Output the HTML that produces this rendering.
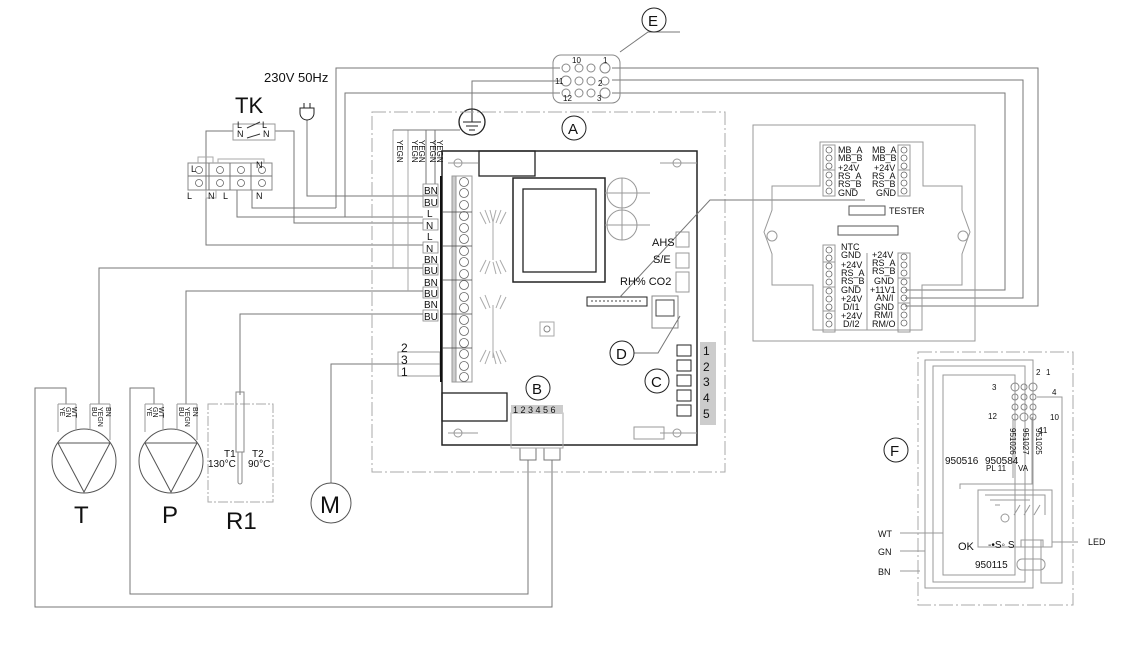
<!DOCTYPE html>
<html><head><meta charset="utf-8"><style>
html,body{margin:0;padding:0;background:#fff;}
svg{display:block;font-family:"Liberation Sans",sans-serif;}
</style></head><body>
<svg width="1141" height="667" viewBox="0 0 1141 667" xmlns="http://www.w3.org/2000/svg">
<g fill="none" stroke="#777" stroke-width="1">
<!-- top wires from E -->
<polyline points="336,208 336,68 560,68"/>
<polyline points="345,217 345,93 560,93"/>
<polyline points="472,113 472,81 560,81"/>
<polyline points="612,68 1038,68 1038,306 905,306"/>
<polyline points="612,80 1023,80 1023,298 905,298"/>
<polyline points="612,93 1005,93 1005,290 905,290"/>
<polyline points="620,52 648,32 680,32"/>
<!-- left wiring -->
<polyline points="252,190 252,208 336,208"/>
<polyline points="237,190 237,217 423,217"/>
<polyline points="275,131 294,131 294,223 423,223"/>
<polyline points="233,131 206,131 206,245 423,245"/>
<polyline points="307,120 307,196 423,196"/>
<polyline points="99,404 99,268 423,268"/>
<polyline points="186,404 186,291 423,291"/>
<polyline points="240,395 240,314 423,314"/>
<polyline points="331,483 331,364 440,364"/>
<polyline points="393,130 393,268" stroke="#aaa"/>
<polyline points="408,130 408,291" stroke="#aaa"/>
<polyline points="426,130 426,190"/>
<polyline points="435,130 435,190"/>
<polyline points="393,130 460,130"/>
<!-- 2 3 1 box -->
<rect x="398" y="352" width="42" height="24" stroke="#999"/>
<line x1="398" y1="364" x2="440" y2="364" stroke="#999"/>
<!-- bottom loops -->
<polyline points="66,404 66,388 35,388 35,607 552,607 552,460"/>
<polyline points="154,404 154,388 130,388 130,594 528,594 528,460"/>
<rect x="520" y="448" width="16" height="12"/>
<rect x="544" y="448" width="16" height="12"/>
<!-- TK block -->
<rect x="188" y="163" width="84" height="27" stroke="#888"/>
<line x1="188" y1="176" x2="272" y2="176"/>
<line x1="209" y1="163" x2="209" y2="190"/><line x1="230" y1="163" x2="230" y2="190"/><line x1="251" y1="163" x2="251" y2="190"/>
<polyline points="198,163 198,157 213,157 213,163" stroke="#aaa"/>
<polyline points="218,163 218,159 264,159 264,163" stroke="#aaa"/>
<polyline points="206,190 206,198 216,198 216,190" stroke="#aaa"/>
<rect x="233" y="124" width="42" height="16" stroke="#999"/>
<line x1="247" y1="128" x2="260" y2="122" stroke="#333"/>
<line x1="247" y1="138" x2="260" y2="134" stroke="#333"/>
<!-- plug -->
<path d="M300,108 h14 v5 a7,7 0 0 1 -14,0 z" stroke="#222"/>
<line x1="304" y1="103" x2="304" y2="108" stroke="#222"/><line x1="310" y1="103" x2="310" y2="108" stroke="#222"/>
<!-- ground -->
<circle cx="472" cy="122" r="13" stroke="#222" stroke-width="1.3"/>
<line x1="472" y1="110" x2="472" y2="122" stroke="#222"/>
<line x1="463" y1="122" x2="481" y2="122" stroke="#222"/><line x1="466" y1="126" x2="478" y2="126" stroke="#222"/><line x1="469" y1="130" x2="475" y2="130" stroke="#222"/>
<!-- board A outline -->
<rect x="372" y="112" width="353" height="360" stroke="#aaa" stroke-dasharray="14,3,2,3"/>
<rect x="442" y="151" width="255" height="294" stroke="#222" stroke-width="1.5"/>
<rect x="479" y="151" width="56" height="25" stroke="#222" stroke-width="1.3"/>
<rect x="442" y="393" width="65" height="28" stroke="#222" stroke-width="1.3"/>
<rect x="513" y="178" width="92" height="104" stroke="#222" stroke-width="1.5"/>
<rect x="523" y="189" width="73" height="83" stroke="#222" stroke-width="1.3"/>
<circle cx="622" cy="193" r="15" stroke="#999"/><circle cx="622" cy="225" r="15" stroke="#999"/>
<line x1="605" y1="193" x2="650" y2="193" stroke="#999"/><line x1="622" y1="178" x2="622" y2="240" stroke="#999"/>
<line x1="605" y1="225" x2="650" y2="225" stroke="#999"/>
<circle cx="458" cy="163" r="4" stroke="#999"/><circle cx="677" cy="163" r="4" stroke="#999"/>
<circle cx="458" cy="433" r="4" stroke="#999"/><circle cx="677" cy="433" r="4" stroke="#999"/>
<line x1="448" y1="163" x2="478" y2="163" stroke="#999"/><line x1="660" y1="163" x2="697" y2="163" stroke="#999"/>
<line x1="448" y1="433" x2="478" y2="433" stroke="#999"/><line x1="660" y1="433" x2="697" y2="433" stroke="#999"/>
<!-- heat sinks -->
<g stroke="#aaa"><line x1="493" y1="220" x2="493" y2="260"/><line x1="493" y1="305" x2="493" y2="358"/>
<path d="M480,212 l6,12 M485,210 l5,13 M490,210 l3,12 M496,210 l-3,12 M501,210 l-5,13 M506,212 l-6,12"/>
<path d="M480,272 l6,-12 M485,274 l5,-13 M496,274 l-3,-12 M501,274 l-5,-13 M506,272 l-6,-12"/>
<path d="M480,297 l6,12 M485,295 l5,13 M501,295 l-5,13 M506,297 l-6,12"/>
<path d="M480,362 l6,-12 M485,364 l5,-13 M496,364 l-3,-12 M501,364 l-5,-13 M506,362 l-6,-12"/></g>
<rect x="540" y="322" width="14" height="14" stroke="#aaa"/><circle cx="547" cy="329" r="3" stroke="#888"/>
<!-- connectors -->
<rect x="587" y="297" width="60" height="9" stroke="#222"/>
<line x1="591" y1="301" x2="643" y2="301" stroke="#444" stroke-dasharray="2,2"/>
<rect x="652" y="296" width="26" height="32" stroke="#888"/>
<rect x="656" y="300" width="18" height="16" stroke="#444"/>
<rect x="676" y="232" width="13" height="15" stroke="#999"/><rect x="676" y="253" width="13" height="15" stroke="#999"/><rect x="676" y="272" width="13" height="20" stroke="#999"/>
<rect x="634" y="427" width="30" height="12" stroke="#999"/>
<polyline points="620,297 710,200 865,200"/>
<polyline points="634,353 658,353 680,316"/>
<!-- B connector -->
<rect x="511" y="413" width="52" height="35" stroke="#aaa"/>
<!-- C relays -->
<g stroke="#222"><rect x="677" y="345" width="14" height="11"/><rect x="677" y="360" width="14" height="11"/><rect x="677" y="375" width="14" height="11"/><rect x="677" y="390" width="14" height="11"/><rect x="677" y="405" width="14" height="11"/></g>
<!-- terminal strip -->
<line x1="441" y1="176" x2="441" y2="382" stroke="#111" stroke-width="2"/>
<rect x="452" y="176" width="4" height="206" fill="#ccc" stroke="#999"/>
<rect x="456" y="176" width="16" height="206" stroke="#999"/>
<!-- circles -->
<circle cx="458" cy="128" r="13" stroke="#fff" stroke-width="0"/>
<circle cx="574" cy="128" r="12" stroke="#222"/>
<circle cx="654" cy="20" r="12" stroke="#222"/>
<circle cx="538" cy="388" r="12" stroke="#222"/>
<circle cx="657" cy="381" r="12" stroke="#222"/>
<circle cx="622" cy="353" r="12" stroke="#222"/>
<circle cx="896" cy="450" r="12" stroke="#222"/>
<circle cx="331" cy="503" r="20" stroke="#555"/>
<!-- E connector -->
<rect x="553" y="55" width="67" height="48" rx="8" stroke="#888"/>
<g stroke="#888"><circle cx="566" cy="68" r="4"/><circle cx="579" cy="68" r="4"/><circle cx="591" cy="68" r="4"/><circle cx="605" cy="68" r="5"/>
<circle cx="566" cy="81" r="5"/><circle cx="579" cy="81" r="4"/><circle cx="591" cy="81" r="4"/><circle cx="605" cy="81" r="4"/>
<circle cx="566" cy="93" r="4"/><circle cx="579" cy="93" r="4"/><circle cx="591" cy="93" r="4"/><circle cx="605" cy="93" r="5"/></g>
<!-- pumps -->
<circle cx="84" cy="461" r="32" stroke="#555"/>
<polyline points="58,443 110,443 84,492 58,443" stroke="#555"/>
<circle cx="171" cy="461" r="32" stroke="#555"/>
<polyline points="145,443 197,443 171,492 145,443" stroke="#555"/>
<g stroke="#999"><line x1="58" y1="404" x2="58" y2="432"/><line x1="76" y1="404" x2="76" y2="430"/><line x1="58" y1="404" x2="76" y2="404"/><line x1="90" y1="404" x2="110" y2="404"/><line x1="90" y1="404" x2="90" y2="430"/><line x1="110" y1="404" x2="110" y2="440"/>
<line x1="145" y1="404" x2="145" y2="432"/><line x1="163" y1="404" x2="163" y2="430"/><line x1="145" y1="404" x2="163" y2="404"/><line x1="177" y1="404" x2="197" y2="404"/><line x1="177" y1="404" x2="177" y2="430"/><line x1="197" y1="404" x2="197" y2="440"/></g>
<!-- R1 -->
<rect x="208" y="404" width="65" height="98" stroke="#aaa" stroke-dasharray="10,2,2,2"/>
<rect x="236" y="392" width="8" height="60" stroke="#888"/>
<path d="M238,452 v30 a2,2 0 0 0 4,0 v-30" stroke="#888"/>
<!-- right controller module -->
<rect x="753" y="125" width="222" height="216" stroke="#999"/>
<path d="M820,142 H923 V186 H962 V210 L970,232 L962,254 V285 H922 V330 H813 V285 H772 V254 L764,232 L772,210 V186 H820 Z" stroke="#999"/>
<circle cx="772" cy="236" r="5" stroke="#999"/><circle cx="963" cy="236" r="5" stroke="#999"/>
<rect x="823" y="145" width="12" height="51" stroke="#999"/><line x1="823" y1="170" x2="835" y2="170" stroke="#999"/>
<rect x="898" y="145" width="12" height="51" stroke="#999"/><line x1="898" y1="170" x2="910" y2="170" stroke="#999"/>
<rect x="849" y="206" width="36" height="9" stroke="#555"/>
<rect x="838" y="226" width="60" height="9" stroke="#555"/>
<rect x="823" y="245" width="12" height="87" stroke="#999"/>
<line x1="823" y1="262" x2="835" y2="262" stroke="#999"/><line x1="823" y1="287" x2="835" y2="287" stroke="#999"/><line x1="823" y1="311" x2="835" y2="311" stroke="#999"/>
<rect x="898" y="253" width="12" height="79" stroke="#999"/>
<line x1="898" y1="278" x2="910" y2="278" stroke="#999"/><line x1="898" y1="303" x2="910" y2="303" stroke="#999"/>
<line x1="867" y1="253" x2="867" y2="330" stroke="#999"/>
<!-- F module -->
<rect x="918" y="352" width="155" height="253" stroke="#aaa" stroke-dasharray="14,3,2,3"/>
<g stroke="#999">
<rect x="925" y="360" width="108" height="228"/>
<rect x="933" y="366" width="92" height="216"/>
<rect x="943" y="375" width="72" height="200"/>
<line x1="920" y1="571" x2="900" y2="571"/><line x1="925" y1="551" x2="900" y2="551"/><line x1="943" y1="533" x2="900" y2="533"/>
<polyline points="1037,397 1062,397 1062,583 1041,583 1041,540"/>
<rect x="978" y="490" width="74" height="57"/>
<rect x="1017" y="559" width="28" height="11" rx="5"/>
<line x1="1052" y1="542" x2="1078" y2="542"/>
<polyline points="960,489 960,484 1032,484 1032,417"/>
<line x1="1013" y1="420" x2="1013" y2="478"/>
<rect x="1021" y="540" width="22" height="7"/>
<path d="M985,495 h60 v20 M990,500 h40 M995,505 l5,0 M1020,505 l-6,10 M1030,505 l-6,10 M1040,505 l-6,10"/>
<circle cx="1005" cy="518" r="4"/>
</g>
<g stroke="#888"><circle cx="1015" cy="387" r="4"/><circle cx="1024" cy="387" r="3"/><circle cx="1033" cy="387" r="4"/>
<circle cx="1015" cy="397" r="3"/><circle cx="1024" cy="397" r="3"/><circle cx="1033" cy="397" r="3"/>
<circle cx="1015" cy="407" r="3"/><circle cx="1024" cy="407" r="3"/><circle cx="1033" cy="407" r="3"/>
<circle cx="1015" cy="417" r="3"/><circle cx="1024" cy="417" r="4"/><circle cx="1033" cy="417" r="3"/></g>
</g>
<!-- screw terminals -->
<g fill="none" stroke="#666" stroke-width="0.8">
<circle cx="464" cy="182" r="4.5"/><circle cx="464" cy="193" r="4.5"/><circle cx="464" cy="205" r="4.5"/><circle cx="464" cy="216" r="4.5"/><circle cx="464" cy="228" r="4.5"/><circle cx="464" cy="239" r="4.5"/><circle cx="464" cy="251" r="4.5"/><circle cx="464" cy="262" r="4.5"/><circle cx="464" cy="274" r="4.5"/><circle cx="464" cy="285" r="4.5"/><circle cx="464" cy="297" r="4.5"/><circle cx="464" cy="308" r="4.5"/><circle cx="464" cy="320" r="4.5"/><circle cx="464" cy="331" r="4.5"/><circle cx="464" cy="343" r="4.5"/><circle cx="464" cy="354" r="4.5"/><circle cx="464" cy="366" r="4.5"/><circle cx="464" cy="377" r="4.5"/>
<circle cx="829" cy="150" r="3"/><circle cx="829" cy="158" r="3"/><circle cx="829" cy="166" r="3"/><circle cx="829" cy="175" r="3"/><circle cx="829" cy="183" r="3"/><circle cx="829" cy="191" r="3"/>
<circle cx="904" cy="150" r="3"/><circle cx="904" cy="158" r="3"/><circle cx="904" cy="166" r="3"/><circle cx="904" cy="175" r="3"/><circle cx="904" cy="183" r="3"/><circle cx="904" cy="191" r="3"/>
<circle cx="829" cy="250" r="3"/><circle cx="829" cy="258" r="3"/><circle cx="829" cy="266" r="3"/><circle cx="829" cy="274" r="3"/><circle cx="829" cy="282" r="3"/><circle cx="829" cy="291" r="3"/><circle cx="829" cy="299" r="3"/><circle cx="829" cy="307" r="3"/><circle cx="829" cy="316" r="3"/><circle cx="829" cy="324" r="3"/>
<circle cx="904" cy="257" r="3"/><circle cx="904" cy="265" r="3"/><circle cx="904" cy="273" r="3"/><circle cx="904" cy="282" r="3"/><circle cx="904" cy="290" r="3"/><circle cx="904" cy="298" r="3"/><circle cx="904" cy="307" r="3"/><circle cx="904" cy="315" r="3"/><circle cx="904" cy="323" r="3"/>
<circle cx="199" cy="170" r="3.5"/><circle cx="220" cy="170" r="3.5"/><circle cx="241" cy="170" r="3.5"/><circle cx="262" cy="170" r="3.5"/>
<circle cx="199" cy="183" r="3.5"/><circle cx="220" cy="183" r="3.5"/><circle cx="241" cy="183" r="3.5"/><circle cx="262" cy="183" r="3.5"/>
</g>
<g stroke="#444" stroke-width="0.8"><line x1="442" y1="212" x2="472" y2="212"/><line x1="442" y1="246" x2="472" y2="246"/><line x1="442" y1="280" x2="472" y2="280"/><line x1="442" y1="314" x2="472" y2="314"/><line x1="442" y1="348" x2="472" y2="348"/></g>
<!-- gray bars -->
<rect x="700" y="342" width="16" height="83" fill="#ccc"/>
<rect x="511" y="405" width="52" height="9" fill="#ccc"/>
<!-- label boxes -->
<g fill="#fff" stroke="#888" stroke-width="0.8">
<rect x="423" y="184" width="15" height="11"/><rect x="423" y="196" width="15" height="11"/><rect x="423" y="219" width="15" height="11"/><rect x="423" y="242" width="15" height="11"/><rect x="423" y="264" width="15" height="11"/><rect x="423" y="287" width="15" height="11"/><rect x="423" y="310" width="15" height="11"/>
</g>
<!-- text -->
<g fill="#111" font-size="10">
<text x="424" y="194">BN</text><text x="424" y="206">BU</text><text x="427" y="217">L</text><text x="426" y="229">N</text><text x="427" y="240">L</text><text x="426" y="252">N</text><text x="424" y="263">BN</text><text x="424" y="274">BU</text><text x="424" y="286">BN</text><text x="424" y="297">BU</text><text x="424" y="308">BN</text><text x="424" y="320">BU</text>
<text x="401" y="352" font-size="12">2</text><text x="401" y="364" font-size="12">3</text><text x="401" y="376" font-size="12">1</text>
<text x="264" y="82" font-size="13">230V 50Hz</text>
<text x="235" y="113" font-size="22">TK</text>
<text x="237" y="128" font-size="9">L</text><text x="262" y="128" font-size="9">L</text><text x="237" y="137" font-size="9">N</text><text x="263" y="137" font-size="9">N</text>
<text x="191" y="172" font-size="9">L</text><text x="256" y="168" font-size="9">N</text><text x="187" y="199" font-size="9">L</text><text x="208" y="199" font-size="9">N</text><text x="223" y="199" font-size="9">L</text><text x="256" y="199" font-size="9">N</text>
<text x="568" y="134" font-size="15">A</text><text x="648" y="26" font-size="15">E</text><text x="532" y="394" font-size="15">B</text><text x="651" y="387" font-size="15">C</text><text x="616" y="359" font-size="15">D</text><text x="890" y="456" font-size="15">F</text>
<text x="320" y="513" font-size="24">M</text>
<text x="74" y="523" font-size="24">T</text><text x="162" y="523" font-size="24">P</text><text x="226" y="529" font-size="24">R1</text>
<text x="224" y="457" font-size="10">T1</text><text x="252" y="457" font-size="10">T2</text>
<text x="208" y="467" font-size="10">130°C</text><text x="248" y="467" font-size="10">90°C</text>
<text x="652" y="246" font-size="11">AHS</text><text x="653" y="263" font-size="11">S/E</text><text x="620" y="285" font-size="11">RH% CO2</text>
<text x="513" y="413" font-size="9">1 2 3 4 5 6</text>
<g font-size="12"><text x="703" y="355">1</text><text x="703" y="371">2</text><text x="703" y="386">3</text><text x="703" y="402">4</text><text x="703" y="418">5</text></g>
<g font-size="8"><text x="572" y="63">10</text><text x="603" y="63">1</text><text x="555" y="84">11</text><text x="563" y="101">12</text><text x="598" y="86">2</text><text x="597" y="101">3</text></g>
<text x="889" y="214" font-size="9">TESTER</text>
<g font-size="9"><text x="838" y="153">MB_A</text><text x="838" y="161">MB_B</text><text x="838" y="171">+24V</text><text x="838" y="179">RS_A</text><text x="838" y="187">RS_B</text><text x="838" y="196">GND</text>
<text x="872" y="153">MB_A</text><text x="872" y="161">MB_B</text><text x="874" y="171">+24V</text><text x="872" y="179">RS_A</text><text x="872" y="187">RS_B</text><text x="876" y="196">GND</text>
<text x="841" y="250">NTC</text><text x="841" y="258">GND</text><text x="841" y="268">+24V</text><text x="841" y="276">RS_A</text><text x="841" y="284">RS_B</text><text x="841" y="293">GND</text><text x="841" y="302">+24V</text><text x="843" y="310">D/I1</text><text x="841" y="319">+24V</text><text x="843" y="327">D/I2</text>
<text x="872" y="258">+24V</text><text x="872" y="266">RS_A</text><text x="872" y="274">RS_B</text><text x="874" y="284">GND</text><text x="870" y="293">+11V1</text><text x="876" y="301">AN/I</text><text x="874" y="310">GND</text><text x="874" y="318">RM/I</text><text x="872" y="327">RM/O</text></g>
<g font-size="8"><text x="992" y="390">3</text><text x="1036" y="375">2</text><text x="1046" y="375">1</text><text x="1052" y="395">4</text><text x="988" y="419">12</text><text x="1050" y="420">10</text><text x="1039" y="433">11</text>
<text x="986" y="471">PL 11</text><text x="1018" y="471">VA</text></g>
<text x="945" y="464" font-size="10">950516</text><text x="985" y="464" font-size="10">950584</text>
<text x="958" y="550" font-size="11">OK</text><text x="988" y="548" font-size="10">-•S◦ S</text>
<text x="1088" y="545" font-size="9">LED</text>
<text x="975" y="568" font-size="10">950115</text>
<text x="878" y="537" font-size="9">WT</text><text x="878" y="555" font-size="9">GN</text><text x="878" y="575" font-size="9">BN</text>
</g>
<g fill="#111" font-size="8">
<text transform="translate(1010,428) rotate(90)">951026</text>
<text transform="translate(1023,428) rotate(90)">951027</text>
<text transform="translate(1036,428) rotate(90)">951025</text>
<text transform="translate(397,140) rotate(90)">YEGN</text>
<text transform="translate(412,140) rotate(90)">YEGN</text>
<text transform="translate(419,140) rotate(90)">YEGN</text>
<text transform="translate(430,140) rotate(90)">YEGN</text>
<text transform="translate(437,140) rotate(90)">YEGN</text>
<g font-size="7">
<text transform="translate(60,407) rotate(90)">YE</text><text transform="translate(66,407) rotate(90)">GN</text><text transform="translate(72,407) rotate(90)">WT</text><text transform="translate(92,407) rotate(90)">BU</text><text transform="translate(98,407) rotate(90)">YEGN</text><text transform="translate(106,407) rotate(90)">BN</text>
<text transform="translate(147,407) rotate(90)">YE</text><text transform="translate(153,407) rotate(90)">GN</text><text transform="translate(159,407) rotate(90)">WT</text><text transform="translate(179,407) rotate(90)">BU</text><text transform="translate(185,407) rotate(90)">YEGN</text><text transform="translate(193,407) rotate(90)">BN</text>
</g></g>
</svg>
</body></html>
